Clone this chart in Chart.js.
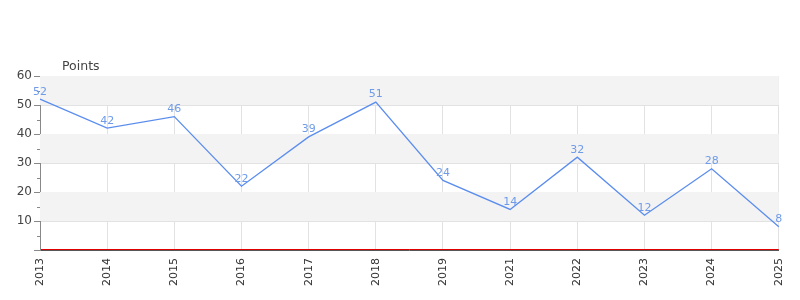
<!DOCTYPE html>
<html>
<head>
<meta charset="utf-8">
<script src="https://cdn.jsdelivr.net/npm/chart.js@4/dist/chart.umd.min.js"></script>
<style>
  html, body { margin: 0; padding: 0; background: #fff; }
  #wrap { width: 800px; height: 300px; }
</style>
</head>
<body>
<div id="wrap"><canvas id="chart"></canvas></div>
<script>
const years = ['2013', '2014', '2015', '2016', '2017', '2018', '2019', '2021', '2022', '2023', '2024', '2025'];
const points = [52, 42, 46, 22, 39, 51, 24, 14, 32, 12, 28, 8];
const bandStarts = [10, 30, 50];
const minorTicks = [5, 15, 25, 35, 45, 55];
const axisTitle = 'Points';

const FONT = '"DejaVu Sans", sans-serif';

// grey bands, minor ticks, red zero line, point labels, axis title
const decor = {
    id: 'decor',
    beforeDatasetsDraw(chart) {
        const { ctx, chartArea, scales } = chart;
        const y = scales.y;
        ctx.save();
        ctx.fillStyle = '#f3f3f3';
        bandStarts.forEach(b => {
            const top = y.getPixelForValue(b + 10);
            const bot = y.getPixelForValue(b);
            ctx.fillRect(chartArea.left, top, chartArea.right - chartArea.left, bot - top);
        });
        ctx.restore();
    },
    afterDraw(chart) {
        const { ctx, chartArea, scales } = chart;
        const y = scales.y;
        ctx.save();
        ctx.strokeStyle = '#888';
        ctx.lineWidth = 1;
        minorTicks.forEach(v => {
            const py = Math.round(y.getPixelForValue(v)) + 0.5;
            ctx.beginPath();
            ctx.moveTo(chartArea.left - 3, py);
            ctx.lineTo(chartArea.left, py);
            ctx.stroke();
        });
        // red line on zero
        const y0 = Math.round(y.getPixelForValue(0));
        ctx.strokeStyle = '#e00000';
        ctx.lineWidth = 1;
        ctx.beginPath();
        ctx.moveTo(chartArea.left + 1, y0 - 0.5);
        ctx.lineTo(chartArea.right, y0 - 0.5);
        ctx.stroke();

        // value labels
        const meta = chart.getDatasetMeta(0);
        ctx.fillStyle = '#6f9be8';
        ctx.font = '11px ' + FONT;
        ctx.textAlign = 'center';
        ctx.textBaseline = 'bottom';
        meta.data.forEach((pt, i) => {
            ctx.fillText(String(points[i]), pt.x, pt.y - 2);
        });

        // axis title
        ctx.fillStyle = '#444';
        ctx.font = '12.5px ' + FONT;
        ctx.textAlign = 'left';
        ctx.textBaseline = 'alphabetic';
        ctx.fillText(axisTitle, chartArea.left + 22, chartArea.top - 6);
        ctx.restore();
    }
};

new Chart(document.getElementById('chart'), {
    type: 'line',
    data: {
        labels: years,
        datasets: [{
            data: points,
            borderColor: '#5b8def',
            borderWidth: 1.3,
            pointRadius: 0,
            fill: false,
            tension: 0,
        }],
    },
    options: {
        responsive: true,
        maintainAspectRatio: false,
        animation: false,
        layout: { padding: { top: 76, right: 18, left: 0, bottom: 0 } },
        plugins: {
            legend: { display: false },
            tooltip: { enabled: false },
        },
        scales: {
            x: {
                offset: false,
                afterFit(scale) { scale.height = 50; },
                grid: {
                    color: '#e2e2e2',
                    drawTicks: false,
                },
                border: { color: '#555', width: 1 },
                ticks: {
                    color: '#333',
                    font: { family: FONT, size: 11 },
                    maxRotation: 90,
                    minRotation: 90,
                    autoSkip: false,
                    padding: 8,
                },
            },
            y: {
                min: 0,
                max: 60,
                afterFit(scale) { scale.width = 40; },
                grid: {
                    color: '#e2e2e2',
                    tickColor: '#888',
                    tickLength: 6,
                },
                border: { color: '#888', width: 1 },
                ticks: {
                    stepSize: 10,
                    color: '#444',
                    font: { family: FONT, size: 12 },
                    padding: 2,
                    callback: v => (v === 0 ? '' : v),
                },
            },
        },
    },
    plugins: [decor],
});
</script>
</body>
</html>
